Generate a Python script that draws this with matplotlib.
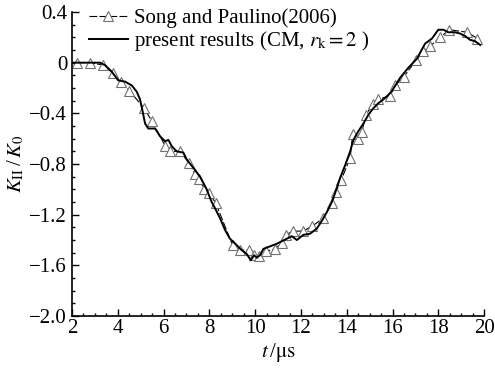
import matplotlib
matplotlib.use('Agg')
import matplotlib.pyplot as plt
from matplotlib.ticker import MultipleLocator

# Song and Paulino (2006), triangles
song_t = [2.23, 2.79, 3.37, 3.78, 4.13, 4.5, 5.15, 5.48, 6.08, 6.3, 6.7, 7.11, 7.37,
          7.56, 7.78, 7.99, 8.28, 9.01, 9.34, 9.71, 9.95, 10.17, 10.46, 10.87, 11.16,
          11.34, 11.64, 12.08, 12.5, 12.95, 13.36, 13.52, 13.75, 14.15, 14.26, 14.48,
          14.66, 14.83, 15.16, 15.38, 15.89, 16.11, 16.5, 17.03, 17.35, 17.64, 18.08,
          18.48, 19.27, 19.71]
song_k = [0.0, 0.0, -0.02, -0.08, -0.15, -0.22, -0.36, -0.46, -0.66, -0.70, -0.70, -0.79,
          -0.88, -0.92, -1.00, -1.03, -1.11, -1.44, -1.48, -1.48, -1.52, -1.53, -1.49,
          -1.47, -1.42, -1.36, -1.33, -1.33, -1.29, -1.23, -1.11, -1.02, -0.93, -0.75,
          -0.56, -0.60, -0.55, -0.41, -0.33, -0.29, -0.26, -0.18, -0.11, 0.02, 0.09,
          0.13, 0.20, 0.26, 0.24, 0.19]

# present results (CM, r_k = 2)
cm_t = [2.0, 2.5, 3.0, 3.22, 3.44, 3.73, 4.02, 4.32, 4.61, 4.83, 4.97, 5.09, 5.19, 5.33,
        5.63, 5.84, 6.06, 6.21, 6.36, 6.57, 6.86, 7.03, 7.30, 7.59, 7.88, 8.10, 8.25,
        8.47, 8.68, 8.90, 9.19, 9.41, 9.63, 9.81, 9.95, 10.07, 10.21, 10.36, 10.65,
        10.79, 10.94, 11.16, 11.38, 11.60, 11.82, 12.10, 12.40, 12.69, 12.91, 13.13,
        13.35, 13.49, 13.71, 13.93, 14.15, 14.29, 14.51, 14.73, 14.95, 15.16, 15.38,
        15.67, 15.95, 16.33, 16.69, 17.06, 17.42, 17.72, 18.0, 18.22, 18.44, 18.73,
        18.95, 19.17, 19.39, 19.6, 19.83]
cm_k = [0.0, 0.0, 0.0, 0.0, -0.02, -0.07, -0.14, -0.15, -0.18, -0.23, -0.29, -0.39,
        -0.48, -0.52, -0.52, -0.58, -0.62, -0.61, -0.66, -0.70, -0.71, -0.77, -0.83,
        -0.90, -1.00, -1.10, -1.15, -1.23, -1.32, -1.39, -1.44, -1.48, -1.51, -1.56,
        -1.52, -1.54, -1.52, -1.47, -1.45, -1.44, -1.43, -1.41, -1.39, -1.37, -1.40,
        -1.36, -1.35, -1.31, -1.25, -1.18, -1.10, -1.03, -0.91, -0.81, -0.70, -0.61,
        -0.54, -0.48, -0.41, -0.36, -0.32, -0.28, -0.23, -0.12, -0.04, 0.03, 0.15,
        0.19, 0.26, 0.26, 0.24, 0.24, 0.23, 0.21, 0.18, 0.17, 0.14]

x_ticks = [2, 4, 6, 8, 10, 12, 14, 16, 18, 20]
y_ticks = [0.4, 0, -0.4, -0.8, -1.2, -1.6, -2.0]
y_labels = ['0.4', '0', '\u22120.4', '\u22120.8', '\u22121.2', '\u22121.6', '\u22122.0']

plt.rcParams['font.family'] = ['Liberation Serif', 'DejaVu Serif']
plt.rcParams['mathtext.fontset'] = 'stix'

fig = plt.figure(figsize=(4.95, 3.68), dpi=100)
ax = fig.add_axes([0.1455, 0.1413, 0.8325, 0.8261])

ax.plot(song_t, song_k, color='black', lw=0.8, ls=(0, (7, 2)), marker='^',
        ms=7, mfc='white', mec='#707070', mew=0.8,
        label='Song and Paulino(2006)')
ax.plot(cm_t, cm_k, color='black', lw=1.4,
        label=r'present results (CM, $r_{\rm k}=2$ )')

ax.set_xlim(2, 20)
ax.set_ylim(-2.0, 0.4)
ax.set_xticks(x_ticks)
ax.set_yticks(y_ticks)
ax.set_yticklabels(y_labels)
ax.xaxis.set_minor_locator(MultipleLocator(0.5))
ax.yaxis.set_minor_locator(MultipleLocator(0.1))
ax.tick_params(which='both', direction='in', labelsize=15, width=1)
ax.tick_params(axis='x', pad=2)
ax.tick_params(which='major', length=5)
ax.tick_params(which='minor', length=2.5)
ax.spines['top'].set_visible(False)
ax.spines['right'].set_visible(False)
ax.spines['left'].set_linewidth(1.2)
ax.spines['bottom'].set_linewidth(1.2)

ax.set_xlabel(r'$t\,$/$\mathrm{\mu s}$', fontsize=15, labelpad=2)
ax.set_ylabel(r'$K_{\rm II}\,$/$\,K_0$', fontsize=15, labelpad=2)

ax.legend(loc='upper left', bbox_to_anchor=(0.02, 1.04), frameon=False, fontsize=15,
          handlelength=1.9, numpoints=1, borderaxespad=0, labelspacing=0.05,
          handletextpad=0.3)

fig.savefig('out.png', dpi=100)
